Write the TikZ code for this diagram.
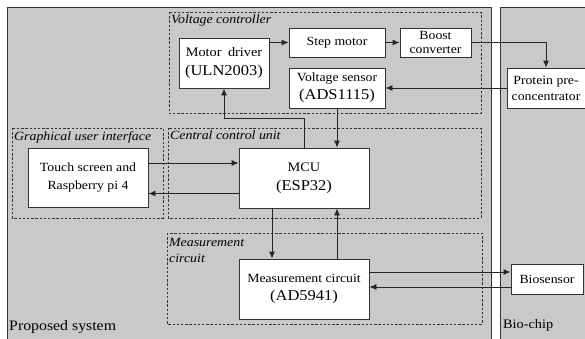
\documentclass[tikz,border=0pt]{standalone}
\usepackage{fontspec}
\setmainfont[FakeStretch = 1.1]{Liberation Serif}
\usepackage{tikz}
\usetikzlibrary{arrows.meta}

\newcommand{\partno}[1]{{\fontsize{15}{18}\selectfont #1}}

\begin{document}
\begin{tikzpicture}[
  x = 1pt, y = -1pt,
  every node/.style = {font = \fontsize{12.5}{18}\selectfont},
  box/.style = {draw = black!80, fill = white, line width = 0.9pt, align = center, inner sep = 0pt},
  group/.style = {draw = black!80, line width = 0.8pt, dash pattern = on 2.4pt off 1.8pt},
  grouplabel/.style = {anchor = north west, inner xsep = 1pt, inner ysep = 3pt, align = left,
    font = \fontsize{12.6}{16}\selectfont\itshape},
  frame/.style = {draw = black!80, fill = black!21, line width = 0.9pt},
  arr/.style = {-{Latex[length = 7pt, width = 6pt]}, draw = black!85, line width = 0.9pt}
  ]
  \useasboundingbox (0,0) rectangle (585,338);

  % outer frames
  \draw[frame] (7,7) rectangle (491,342);
  \draw[frame] (500,7) rectangle (592,342);
  \node[anchor = south west, inner sep = 0pt, font = \fontsize{14.4}{14}\selectfont] (proposed) at (9,334) {Proposed system};
  \node[anchor = south west, inner sep = 0pt, font = \fontsize{13}{13}\selectfont] (biochip) at (503,331) {Bio-chip};

  % dashed groups
  \draw[group] (169,12) rectangle (481,113);
  \node[grouplabel] (vclabel) at (170,12) {Voltage controller};
  \draw[group] (12,128) rectangle (163,218);
  \node[grouplabel] (guilabel) at (13,128) {Graphical user interface};
  \draw[group] (168,128) rectangle (481,218);
  \node[grouplabel] (cculabel) at (169,128) {Central control unit};
  \draw[group] (167,233) rectangle (482,324);
  \node[grouplabel] (mclabel) at (168,235) {Measurement\\circuit};

  % blocks
  \node[box, minimum width = 90, minimum height = 50, font = \fontsize{13}{19}\selectfont] (mdrv) at (224,63) {Motor\enspace driver\\\partno{(ULN2003)}};
  \node[box, minimum width = 96, minimum height = 29] (smotor) at (337,42.5) {Step motor};
  \node[box, minimum width = 71, minimum height = 29, font = \fontsize{12.5}{14}\selectfont] (boost) at (435.5,42.5) {Boost\\converter};
  \node[box, minimum width = 96, minimum height = 40] (vsens) at (337,88) {Voltage sensor\\\partno{(ADS1115)}};
  \node[box, minimum width = 78, minimum height = 40, font = \fontsize{12.5}{16}\selectfont] (protein) at (546,88) {Protein pre-\\concentrator};
  \node[box, minimum width = 120, minimum height = 59] (touch) at (88,177.5) {Touch screen and\\Raspberry pi 4};
  \node[box, minimum width = 130, minimum height = 60, font = \fontsize{13}{19}\selectfont] (mcu) at (304,178) {MCU\\\partno{(ESP32)}};
  \node[box, minimum width = 130, minimum height = 60] (meas) at (304,289) {Measurement circuit\\\partno{(AD5941)}};
  \node[box, minimum width = 72, minimum height = 30] (bios) at (547,279) {Biosensor};

  % connectors
  \coordinate (turn) at (304,118);
  \coordinate (bin) at ([yshift = 7]bios.west);
  \coordinate (bout) at ([yshift = -8]bios.west);
  \draw[arr] (mdrv.east |- smotor.west) -- (smotor.west);
  \draw[arr] (smotor) -- (boost);
  \draw[arr] (boost.east) -| (protein.north);
  \draw[arr] (protein.west) -- (vsens.east);
  \draw[arr] (vsens.south) -- (vsens.south |- mcu.north);
  \draw[arr] (mcu.north) -- (turn) -| (mdrv.south);
  \draw[arr] ([yshift = 14.5]touch.east) -- ([yshift = 14.5]touch.east -| mcu.west);
  \draw[arr] ([yshift = -15.5]mcu.west) -- ([yshift = -15.5]mcu.west -| touch.east);
  \draw[arr] ([xshift = -32]mcu.south) -- ([xshift = -32]meas.north);
  \draw[arr] ([xshift = 33]meas.north) -- ([xshift = 33]mcu.south);
  \draw[arr] (bin -| meas.east) -- (bin);
  \draw[arr] (bout) -- (bout -| meas.east);
\end{tikzpicture}
\end{document}
